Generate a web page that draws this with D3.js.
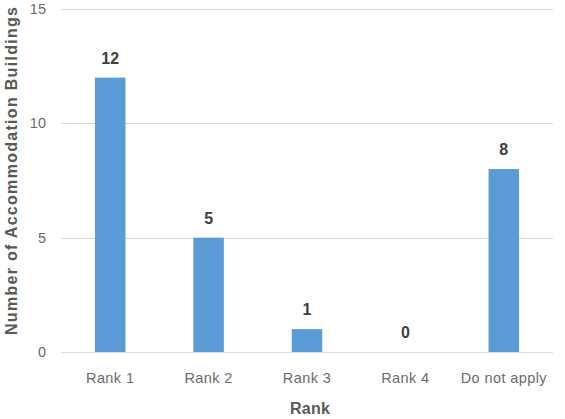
<!DOCTYPE html>
<html>
<head>
<meta charset="utf-8">
<script src="https://cdn.jsdelivr.net/npm/d3@7"></script>
<style>
  html, body { margin: 0; padding: 0; background: #fff; }
  svg { display: block; font-family: "Liberation Sans", Arial, sans-serif; }
</style>
</head>
<body>
<div id="chart"></div>
<script>
// Accommodation buildings by rank
const categories = ['Rank 1', 'Rank 2', 'Rank 3', 'Rank 4', 'Do not apply'];
const counts = [12, 5, 1, 0, 8];
const yTicks = [0, 5, 10, 15];

const width = 565, height = 419;
const plot = { left: 61, right: 553, top: 9, bottom: 352 };

const svg = d3.select('#chart')
    .append('svg')
    .attr('width', width)
    .attr('height', height);

// Scales
const x = d3.scaleBand()
    .domain(categories)
    .range([plot.left, plot.right])
    .paddingInner(0.69)
    .paddingOuter(0.345);

const y = d3.scaleLinear()
    .domain([0, 15])
    .range([plot.bottom, plot.top]);

// Gridlines
svg.append('g')
    .selectAll('line')
    .data(yTicks)
    .join('line')
    .attr('x1', plot.left)
    .attr('x2', plot.right)
    .attr('y1', d => Math.round(y(d)) + 0.5)
    .attr('y2', d => Math.round(y(d)) + 0.5)
    .attr('stroke', '#d9d9d9')
    .attr('stroke-width', 1);

// Y tick labels
svg.append('g')
    .selectAll('text')
    .data(yTicks)
    .join('text')
    .attr('x', 46)
    .attr('y', d => y(d) + 5)
    .attr('text-anchor', 'end')
    .attr('fill', '#6b6b6b')
    .style('font-size', '14.5px')
    .text(d => d);

// Bars
svg.append('g')
    .selectAll('rect')
    .data(counts)
    .join('rect')
    .attr('x', (d, i) => x(categories[i]))
    .attr('y', d => y(d))
    .attr('width', x.bandwidth())
    .attr('height', d => y(0) - y(d))
    .attr('fill', '#5b9bd5');

// Data labels
svg.append('g')
    .selectAll('text')
    .data(counts)
    .join('text')
    .attr('x', (d, i) => x(categories[i]) + x.bandwidth() / 2)
    .attr('y', d => y(d) - 14)
    .attr('text-anchor', 'middle')
    .attr('fill', '#404040')
    .style('font-size', '16px')
    .style('font-weight', 'bold')
    .text(d => d);

// Category labels
svg.append('g')
    .selectAll('text')
    .data(categories)
    .join('text')
    .attr('x', d => x(d) + x.bandwidth() / 2)
    .attr('y', 383)
    .attr('text-anchor', 'middle')
    .attr('fill', '#6b6b6b')
    .style('font-size', '14.5px')
    .style('letter-spacing', '0.4px')
    .text(d => d);

// Axis titles
svg.append('text')
    .attr('x', 310)
    .attr('y', 414)
    .attr('text-anchor', 'middle')
    .attr('fill', '#595959')
    .style('font-size', '16px')
    .style('font-weight', 'bold')
    .attr('textLength', 40)
    .attr('lengthAdjust', 'spacing')
    .text('Rank');

svg.append('text')
    .attr('transform', 'translate(17,171) rotate(-90)')
    .attr('text-anchor', 'middle')
    .attr('fill', '#595959')
    .style('font-size', '16px')
    .style('font-weight', 'bold')
    .attr('textLength', 328)
    .attr('lengthAdjust', 'spacing')
    .text('Number of Accommodation Buildings');
</script>
</body>
</html>
